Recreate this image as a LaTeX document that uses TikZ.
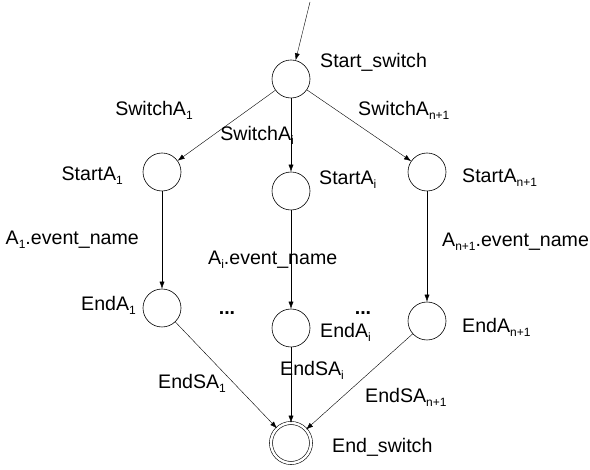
\documentclass[tikz,border=0pt]{standalone}
\usepackage{fontspec}
\setmainfont{Liberation Sans}
\usetikzlibrary{arrows.meta}
\newcommand\lo[1]{\raisebox{-4pt}{\fontsize{12}{12}\selectfont #1}}

\begin{document}
\begin{tikzpicture}[x=1pt,y=-1pt,
    state/.style={draw,circle,minimum size=38pt,inner sep=0pt,semithick},
    final/.style={state,double,double distance=2.4pt,minimum size=40pt},
    lbl/.style={inner sep=0pt,font=\fontsize{19.6}{22}\selectfont},
    tr/.style={-{Latex[length=7pt,width=5pt]},thin}]
      \useasboundingbox (0,0) rectangle (590,470);
      % states
      \node[state] (start) at (291,79) {};
      \node[state] (sa1) at (162,172) {};
      \node[state] (sai) at (291,191) {};
      \node[state] (san) at (427,172) {};
      \node[state] (ea1) at (162,308) {};
      \node[state] (eai) at (291,328) {};
      \node[state] (ean) at (427,321) {};
      \node[final] (fin) at (291,443) {};
      \coordinate (in) at (310,2);
      % state names
      \node[lbl,anchor=west] (startlbl) at (320,62) {Start\_switch};
      \node[lbl,anchor=east] (sa1lbl) at (123,176) {StartA\lo{1}};
      \node[lbl,anchor=west] (sailbl) at (319,180) {StartA\lo{i}};
      \node[lbl,anchor=west] (sanlbl) at (462,178) {StartA\lo{n+1}};
      \node[lbl,anchor=east] (ea1lbl) at (136,305) {EndA\lo{1}};
      \node[lbl,anchor=west] (eailbl) at (320,332) {EndA\lo{i}};
      \node[lbl,anchor=west] (eanlbl) at (462,327) {EndA\lo{n+1}};
      \node[lbl,anchor=west] (finlbl) at (332,447) {End\_switch};
      \node[lbl,anchor=base] (dots1) at (227,315) {\textbf{...}};
      \node[lbl,anchor=base] (dots2) at (363,315) {\textbf{...}};
      % transitions
      \draw[tr] (in) -- (start);
      \draw[tr] (start) -- (sa1);
      \draw[tr] (start) -- (sai);
      \draw[tr] (start) -- (san);
      \draw[tr] (sa1) -- (ea1);
      \draw[tr] (sai) -- (eai);
      \draw[tr] (san) -- (ean);
      \draw[tr] (ea1) -- (fin);
      \draw[tr] (eai) -- (fin);
      \draw[tr] (ean) -- (fin);
      % transition labels
      \node[lbl] (sw1) at (154,110) {SwitchA\lo{1}};
      \node[lbl,anchor=east] (swi) at (294,135) {SwitchA\lo{i}};
      \node[lbl,anchor=west] (swn) at (358,110) {SwitchA\lo{n+1}};
      \node[lbl,anchor=east] (ev1) at (139,240) {A\lo{1}.event\_name};
      \node[lbl,anchor=west] (evi) at (208,260) {A\lo{i}.event\_name};
      \node[lbl,anchor=west] (evn) at (442,242) {A\lo{n+1}.event\_name};
      \node[lbl,anchor=west] (esa1) at (158,383) {EndSA\lo{1}};
      \node[lbl,anchor=west] (esai) at (280,370) {EndSA\lo{i}};
      \node[lbl,anchor=west] (esan) at (365,397) {EndSA\lo{n+1}};
\end{tikzpicture}
\end{document}
